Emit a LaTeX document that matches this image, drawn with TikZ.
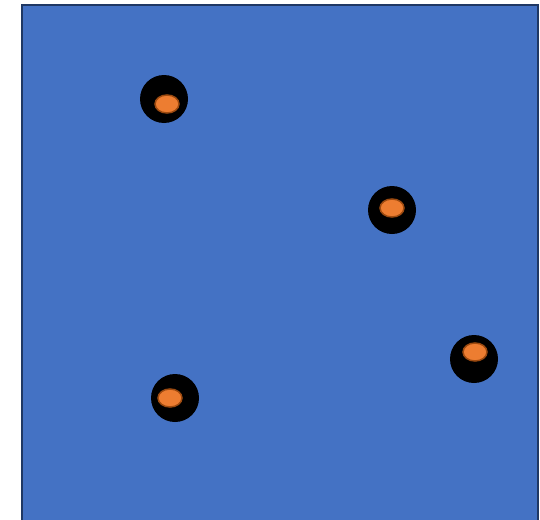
\documentclass[tikz,border=0pt]{standalone}
\usetikzlibrary{shapes.geometric}
\definecolor{boxblue}{HTML}{4472C4}
\definecolor{boxedge}{HTML}{1F3864}
\definecolor{dotorange}{HTML}{ED7D31}
\definecolor{dotedge}{HTML}{9C4A10}
\begin{document}
\begin{tikzpicture}[x=1pt,y=-1pt,hole/.style={circle,fill=black,minimum size=48,inner sep=0},dot/.style={ellipse,fill=dotorange,draw=dotedge,line width=1.5,minimum width=24,minimum height=18,inner sep=0}]
            \useasboundingbox (0,0) rectangle (540,519);
            \draw[fill=boxblue,draw=boxedge,line width=2] (22,5) rectangle (538,530);

            \node [hole](1) at (164,99){};
            \node [hole](2) at (392,210){};
            \node [hole](3) at (474,359){};
            \node [hole](4) at (175,398){};

            \node [dot](5) at (1) [xshift=3, yshift=-5]{};
            \node [dot](6) at (2) [yshift=2]{};
            \node [dot](7) at (3) [xshift=1, yshift=7]{};
            \node [dot](8) at (4) [xshift=-5]{};
        \end{tikzpicture}
\end{document}
